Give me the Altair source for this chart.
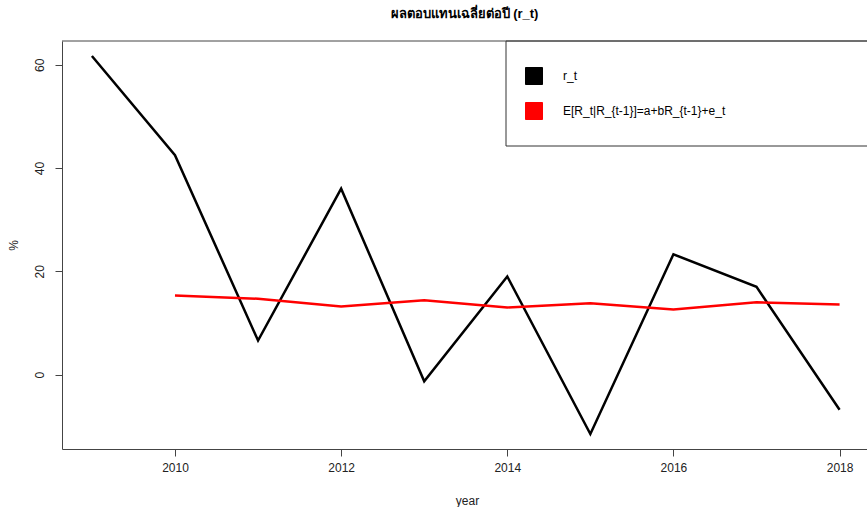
import altair as alt
import pandas as pd

years = [2009, 2010, 2011, 2012, 2013, 2014, 2015, 2016, 2017, 2018]
r_t = [61.7, 42.5, 6.6, 36.0, -1.3, 19.0, -11.5, 23.3, 17.0, -6.8]
exp_years = [2010, 2011, 2012, 2013, 2014, 2015, 2016, 2017, 2018]
exp_r = [15.3, 14.7, 13.2, 14.4, 13.0, 13.8, 12.6, 14.0, 13.6]

series_names = ["r_t", "E[R_t|R_{t-1}]=a+bR_{t-1}+e_t"]
series_colors = ["#000000", "#ff0000"]

rows = [{"year": y, "value": v, "series": series_names[0]} for y, v in zip(years, r_t)]
rows += [{"year": y, "value": v, "series": series_names[1]} for y, v in zip(exp_years, exp_r)]
df = pd.DataFrame(rows)

FONT = "Liberation Sans"

xscale = alt.Scale(domain=[2008.64, 2018.33], nice=False, zero=False)
yscale = alt.Scale(domain=[-14.4, 64.6], nice=False, zero=False)

one = pd.DataFrame({"a": [0]})


def make_legend():
    return alt.Legend(
        title=None, orient="none", legendX=463, legendY=26,
        symbolType="square", symbolSize=289,
        symbolStrokeColor="#222222", symbolStrokeWidth=1,
        symbolOpacity=1,
        labelOffset=20, rowPadding=13,
        labelFontSize=12, labelFont=FONT, labelColor="#000",
        labelLimit=500, padding=0)


box = alt.Chart(one).mark_rect(
    fill="white", stroke="#333333", strokeWidth=1
).encode(
    x=alt.value(444), x2=alt.value(840), y=alt.value(0), y2=alt.value(105)
)

top_border = alt.Chart(one).mark_rule(color="#444444", strokeWidth=1).encode(
    x=alt.value(0), x2=alt.value(805), y=alt.value(0)
)

lines = alt.Chart(df).mark_line(strokeWidth=2.5).encode(
    x=alt.X("year:Q", scale=xscale,
            axis=alt.Axis(values=[2010, 2012, 2014, 2016, 2018], format="d",
                          title="year", grid=False, tickSize=7, labelPadding=6,
                          titleX=405, titleY=51, titleBaseline="middle",
                          titleAlign="center")),
    y=alt.Y("value:Q", scale=yscale,
            axis=alt.Axis(values=[0, 20, 40, 60], title="%", grid=False,
                          tickSize=7, labelAngle=270, labelAlign="center",
                          labelBaseline="bottom", labelPadding=9,
                          titleX=-49, titleY=204, titleAngle=270,
                          titleAlign="center", titleBaseline="middle")),
    color=alt.Color("series:N",
                    scale=alt.Scale(domain=series_names, range=series_colors),
                    sort=series_names, legend=make_legend()),
    detail="series:N",
)

legend_layer = alt.Chart(df).mark_square(filled=True, opacity=0, size=1).encode(
    x=alt.X("year:Q", scale=xscale),
    y=alt.Y("value:Q", scale=yscale),
    fill=alt.Fill("series:N",
                  scale=alt.Scale(domain=series_names, range=series_colors),
                  sort=series_names, legend=make_legend()),
)

chart = alt.layer(box, top_border, lines, legend_layer).properties(
    width=805, height=408,
    background="white",
    title=alt.Title("ผลตอบแทนเฉลี่ยต่อปี (r_t)", fontSize=13, fontWeight="bold",
                    font=FONT, anchor="middle", offset=20, color="#000"),
    autosize=alt.AutoSizeParams(type="none"),
    padding={"left": 62, "top": 41, "right": 0, "bottom": 58},
).configure_view(
    stroke=None
).configure_axis(
    domainColor="#444444", tickColor="#444444", labelColor="#222222",
    titleColor="#222222", labelFont=FONT, titleFont=FONT, labelFontSize=12,
    titleFontSize=12, titleFontWeight="normal", domainWidth=1
)

chart.save("out.html", embed_options={"renderer": "svg", "actions": False})
